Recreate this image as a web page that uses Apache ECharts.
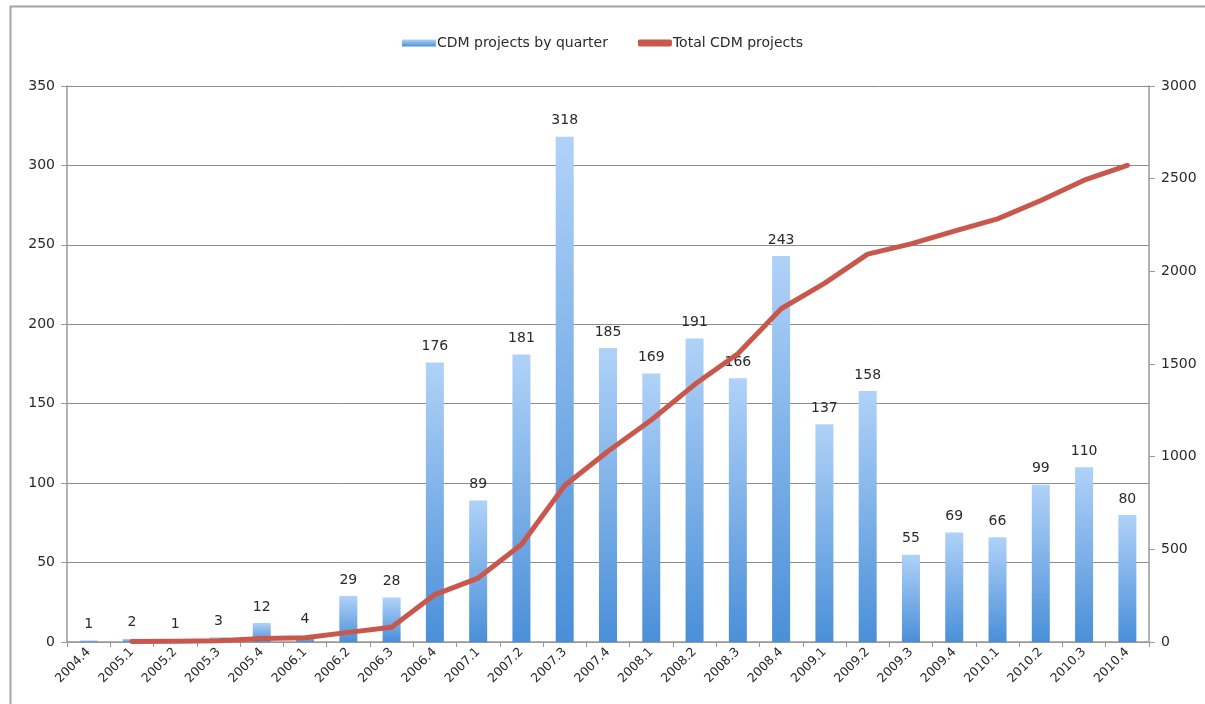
<!DOCTYPE html>
<html>
<head>
<meta charset="utf-8">
<script src="https://cdn.jsdelivr.net/npm/echarts@6/dist/echarts.min.js"></script>
<style>
  html, body { margin: 0; padding: 0; background: #fff; }
  #chart { width: 1205px; height: 704px; }
</style>
</head>
<body>
<div id="chart"></div>
<script>
// Quarters on the category axis
const quarters = ['2004.4','2005.1','2005.2','2005.3','2005.4','2006.1','2006.2','2006.3','2006.4',
  '2007.1','2007.2','2007.3','2007.4','2008.1','2008.2','2008.3','2008.4',
  '2009.1','2009.2','2009.3','2009.4','2010.1','2010.2','2010.3','2010.4'];

// New CDM projects registered in each quarter
const projectsByQuarter = [1, 2, 1, 3, 12, 4, 29, 28, 176, 89, 181, 318, 185, 169, 191, 166, 243,
  137, 158, 55, 69, 66, 99, 110, 80];

// Running total of CDM projects (right axis); no total drawn for the first quarter
const totalProjects = [null, 3, 4, 7, 19, 23, 52, 80, 256, 345, 526, 844, 1029, 1198, 1389, 1555, 1798,
  1935, 2093, 2148, 2217, 2283, 2382, 2492, 2572];

const leftTicks = { min: 0, max: 350, interval: 50 };
const rightTicks = { min: 0, max: 3000, interval: 500 };

const font = '"DejaVu Sans", "Open Sans", sans-serif';
const textColor = '#2a2a2a';
const chart = echarts.init(document.getElementById('chart'), null, { renderer: 'canvas' });

chart.setOption({
  animation: false,
  backgroundColor: '#fff',
  textStyle: { fontFamily: font },
  graphic: [{
    type: 'rect',
    left: 8, top: 4,
    shape: { width: 1300, height: 800 },
    style: { fill: 'none', stroke: '#a6a6a6', lineWidth: 2 },
    silent: true
  }],
  legend: {
    top: 31,
    left: 'center',
    itemWidth: 34,
    itemHeight: 7,
    itemGap: 30,
    textStyle: { fontSize: 14, color: textColor, fontFamily: font, padding: [0, 0, 0, -4] },
    data: [
      { name: 'CDM projects by quarter', icon: 'rect' },
      { name: 'Total CDM projects', icon: 'roundRect' }
    ]
  },
  grid: { left: 67, right: 56, top: 86, bottom: 62 },
  xAxis: {
    type: 'category',
    data: quarters,
    boundaryGap: true,
    axisLine: { lineStyle: { color: '#9a9a9a', width: 1.5 } },
    axisTick: { show: true, alignWithLabel: false, length: 5, lineStyle: { color: '#9a9a9a' } },
    axisLabel: { rotate: 45, fontSize: 12.5, color: textColor, margin: 8, interval: 0, fontFamily: font }
  },
  yAxis: [{
    type: 'value',
    min: leftTicks.min, max: leftTicks.max, interval: leftTicks.interval,
    axisLine: { show: true, lineStyle: { color: '#9a9a9a', width: 1.5 } },
    axisTick: { show: true, length: 6, lineStyle: { color: '#9a9a9a' } },
    axisLabel: { fontSize: 14, color: textColor, margin: 12, fontFamily: font },
    splitLine: { show: true, lineStyle: { color: '#8c8c8c', width: 1 } }
  }, {
    type: 'value',
    min: rightTicks.min, max: rightTicks.max, interval: rightTicks.interval,
    position: 'right',
    axisLine: { show: true, lineStyle: { color: '#9a9a9a', width: 1.5 } },
    axisTick: { show: true, length: 6, lineStyle: { color: '#9a9a9a' } },
    axisLabel: { fontSize: 14, color: textColor, margin: 12, fontFamily: font,
      formatter: function (v) { return String(v); } },
    splitLine: { show: false }
  }],
  series: [{
    name: 'CDM projects by quarter',
    type: 'bar',
    yAxisIndex: 0,
    data: projectsByQuarter,
    barWidth: 18,
    itemStyle: {
      color: new echarts.graphic.LinearGradient(0, 0, 0, 1, [
        { offset: 0, color: '#b0d2f8' },
        { offset: 1, color: '#4a8fd8' }
      ])
    },
    label: {
      show: true, position: 'top', distance: 9,
      fontSize: 14, color: textColor, fontFamily: font
    }
  }, {
    name: 'Total CDM projects',
    type: 'line',
    yAxisIndex: 1,
    data: totalProjects,
    symbol: 'none',
    z: 5,
    itemStyle: { color: '#c9574c' },
    lineStyle: { color: '#c9574c', width: 5, cap: 'round', join: 'round' }
  }]
});
</script>
</body>
</html>
